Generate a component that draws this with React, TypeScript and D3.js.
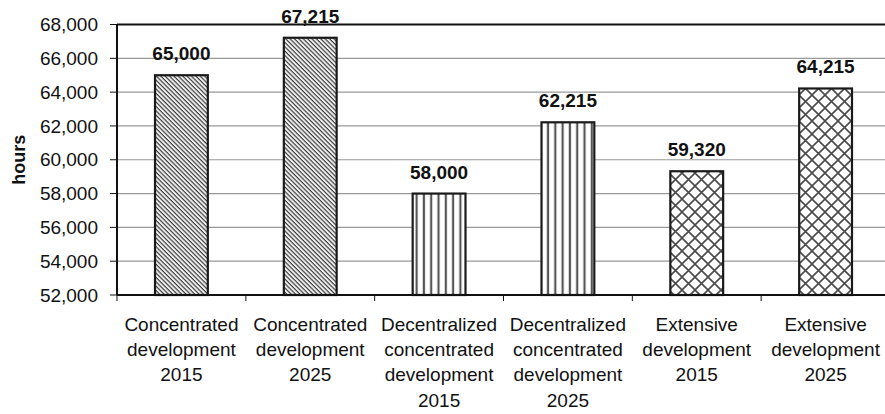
import React from 'react';
import * as d3 from 'd3';

const categories = [
  'Concentrated development 2015',
  'Concentrated development 2025',
  'Decentralized concentrated development 2015',
  'Decentralized concentrated development 2025',
  'Extensive development 2015',
  'Extensive development 2025',
];
const categoryLines = [
  ['Concentrated', 'development', '2015'],
  ['Concentrated', 'development', '2025'],
  ['Decentralized', 'concentrated', 'development', '2015'],
  ['Decentralized', 'concentrated', 'development', '2025'],
  ['Extensive', 'development', '2015'],
  ['Extensive', 'development', '2025'],
];
const values = [65000, 67215, 58000, 62215, 59320, 64215];
const yTicks = [52000, 54000, 56000, 58000, 60000, 62000, 64000, 66000, 68000];
const fills = ['url(#diag)', 'url(#diag)', 'url(#vert)', 'url(#vert)', 'url(#cross)', 'url(#cross)'];

const W = 885;
const H = 414;
const left = 117;
const right = 890;
const top = 24.5;
const bottom = 295;
const font = '"Liberation Sans", Arial, sans-serif';

export default function App() {
  const x = d3.scaleBand<string>().domain(categories).range([left, right])
    .paddingInner(0.59).paddingOuter(0.295);
  const y = d3.scaleLinear().domain([52000, 68000]).range([bottom, top]);
  const fmt = d3.format(',');
  const step = x.step();

  return (
    <svg width={W} height={H} style={{ position: 'absolute', left: 0, top: 0, background: '#fff' }}
      fontFamily={font}>
      <defs>
        <pattern id="diag" patternUnits="userSpaceOnUse" width={3.1} height={10}
          patternTransform="rotate(-45)">
          <rect width={3.1} height={10} fill="#f4f4f4" />
          <line x1={1} y1={0} x2={1} y2={10} stroke="#3a3a3a" strokeWidth={1.2} />
        </pattern>
        <pattern id="vert" patternUnits="userSpaceOnUse" width={7.3} height={10} x={413}>
          <rect width={7.3} height={10} fill="#fff" />
          <line x1={3.6} y1={0} x2={3.6} y2={10} stroke="#555" strokeWidth={2.2} />
        </pattern>
        <pattern id="cross" patternUnits="userSpaceOnUse" width={13} height={13} x={669} y={4}>
          <rect width={13} height={13} fill="#fff" />
          <path d="M0,0L13,13M13,0L0,13" stroke="#4a4a4a" strokeWidth={1.6} />
        </pattern>
      </defs>

      {/* gridlines */}
      {yTicks.map(t => (
        <line key={t} x1={left} x2={right} y1={y(t)} y2={y(t)}
          stroke={t === 68000 ? '#111' : '#999'} strokeWidth={t === 68000 ? 2 : 1.2} />
      ))}

      {/* bars */}
      {values.map((v, i) => (
        <g key={categories[i]}>
          <rect x={x(categories[i])} y={y(v)} width={x.bandwidth()} height={bottom - y(v)}
            fill={fills[i]} stroke="#1a1a1a" strokeWidth={2.2} />
          <text x={(x(categories[i]) as number) + x.bandwidth() / 2} y={y(v) - 15}
            textAnchor="middle" fontWeight="bold" fontSize={19} fill="#111">{fmt(v)}</text>
        </g>
      ))}

      {/* axes */}
      <line x1={left} x2={left} y1={top} y2={bottom} stroke="#111" strokeWidth={2} />
      <line x1={left} x2={right} y1={bottom} y2={bottom} stroke="#111" strokeWidth={2} />
      {yTicks.map(t => (
        <g key={'yt' + t}>
          <line x1={left - 7} x2={left} y1={y(t)} y2={y(t)} stroke="#111" strokeWidth={1} />
          <text x={98} y={y(t)} dy="0.35em" textAnchor="end" fontSize={19} fill="#111">{fmt(t)}</text>
        </g>
      ))}
      {d3.range(categories.length + 1).map(i => (
        <line key={'xt' + i} x1={left + i * step} x2={left + i * step} y1={bottom} y2={bottom + 6}
          stroke="#111" strokeWidth={1} />
      ))}
      {categoryLines.map((lines, i) => (
        <text key={'cl' + i} x={(x(categories[i]) as number) + x.bandwidth() / 2} y={331}
          textAnchor="middle" fontSize={19} fill="#111">
          {lines.map((l, j) => (
            <tspan key={j} x={(x(categories[i]) as number) + x.bandwidth() / 2} dy={j === 0 ? 0 : 25.2}>{l}</tspan>
          ))}
        </text>
      ))}

      <text transform={`translate(25,${(top + bottom) / 2}) rotate(-90)`} textAnchor="middle"
        fontWeight="bold" fontSize={18} fill="#111">hours</text>
    </svg>
  );
}
